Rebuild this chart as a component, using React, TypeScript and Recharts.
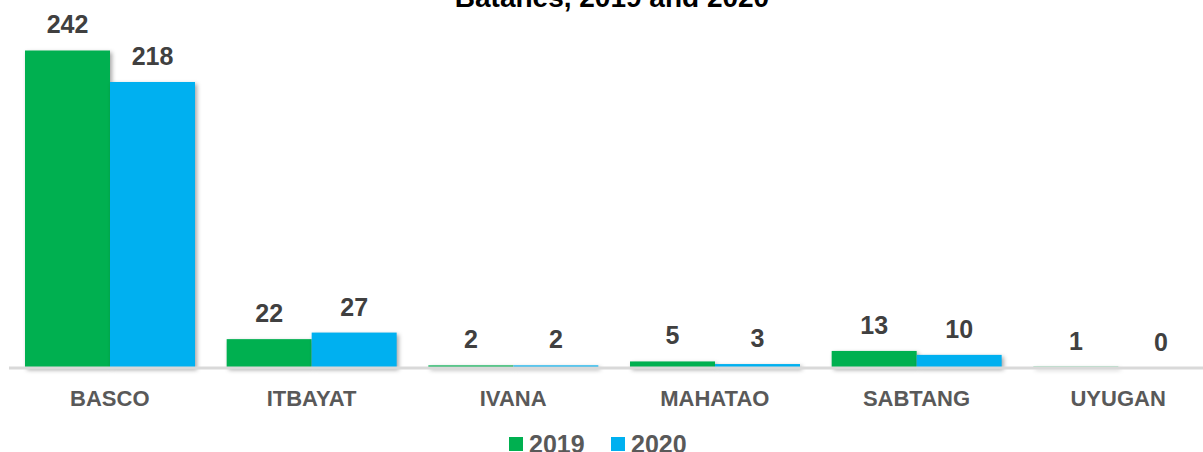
import React from "react";
import { BarChart, Bar, XAxis, YAxis, Legend, LabelList } from "recharts";

const municipalities = ["BASCO", "ITBAYAT", "IVANA", "MAHATAO", "SABTANG", "UYUGAN"];
const values2019 = [242, 22, 2, 5, 13, 1];
const values2020 = [218, 27, 2, 3, 10, 0];
const seriesNames = ["2019", "2020"];
const seriesColors = ["#00B050", "#00B0F0"];
const titleText = "Batanes, 2019 and 2020";

const data = municipalities.map((m, i) => ({
  name: m,
  y2019: values2019[i],
  y2020: values2020[i],
}));

const FONT = "'Liberation Sans', Arial, Helvetica, sans-serif";

const ValueLabel = (props: any) => {
  const { x, y, width, value } = props;
  return (
    <text
      x={Number(x) + Number(width) / 2}
      y={Number(y) - 17}
      textAnchor="middle"
      fontFamily={FONT}
      fontWeight="bold"
      fontSize={25}
      fill="#404040"
    >
      {value}
    </text>
  );
};

const CategoryTick = (props: any) => {
  const { x, y, payload } = props;
  return (
    <text
      x={x}
      y={Number(y) + 36}
      textAnchor="middle"
      fontFamily={FONT}
      fontWeight="bold"
      fontSize={22}
      fill="#595959"
    >
      {payload.value}
    </text>
  );
};

const ShadowBar = (props: any) => {
  const { x, y, width, height, fill } = props;
  if (!height || height <= 0) return <g />;
  return (
    <rect
      x={x}
      y={y}
      width={width}
      height={height}
      fill={fill}
      style={{ filter: "drop-shadow(2px 2px 2px rgba(0,0,0,0.35))" }}
    />
  );
};

const LegendContent = () => {
  const items = [
    { sq: 509, tx: 529 },
    { sq: 611, tx: 631 },
  ];
  return (
    <svg width={1203} height={30} style={{ display: "block" }}>
      {seriesNames.map((n, i) => (
        <g key={n}>
          <rect x={items[i].sq} y={9} width={14} height={14} fill={seriesColors[i]} />
          <text
            x={items[i].tx}
            y={25}
            fontFamily={FONT}
            fontWeight="bold"
            fontSize={25}
            fill="#595959"
          >
            {n}
          </text>
        </g>
      ))}
    </svg>
  );
};

export default function App() {
  return (
    <div
      style={{
        position: "absolute",
        left: 0,
        top: 0,
        width: 1203,
        height: 452,
        overflow: "hidden",
        background: "#ffffff",
      }}
    >
      <div
        style={{
          position: "absolute",
          left: 0,
          top: -15.7,
          width: 1224,
          textAlign: "center",
          fontFamily: FONT,
          fontWeight: "bold",
          fontSize: 28,
          lineHeight: "28px",
          color: "#000000",
          whiteSpace: "nowrap",
        }}
      >
        {titleText}
      </div>
      <BarChart
        width={1220}
        height={452}
        data={data}
        margin={{ top: 40, right: 1, left: 9, bottom: 0 }}
        barGap={0}
        barSize={85}
      >
        <XAxis
          dataKey="name"
          height={84}
          tickLine={false}
          tickSize={0}
          axisLine={{ stroke: "#D9D9D9", strokeWidth: 3 }}
          tick={<CategoryTick />}
          interval={0}
        />
        <YAxis hide domain={[0, 250]} />
        <Legend
          verticalAlign="middle"
          align="center"
          layout="horizontal"
          content={<LegendContent />}
          wrapperStyle={{ position: "absolute", top: 428, left: 0, width: 1203, height: 30 }}
        />
        <Bar
          dataKey="y2019"
          name={seriesNames[0]}
          fill={seriesColors[0]}
          isAnimationActive={false}
          shape={<ShadowBar />}
          minPointSize={0}
        >
          <LabelList dataKey="y2019" content={<ValueLabel />} />
        </Bar>
        <Bar
          dataKey="y2020"
          name={seriesNames[1]}
          fill={seriesColors[1]}
          isAnimationActive={false}
          shape={<ShadowBar />}
        >
          <LabelList dataKey="y2020" content={<ValueLabel />} />
        </Bar>
      </BarChart>
    </div>
  );
}
